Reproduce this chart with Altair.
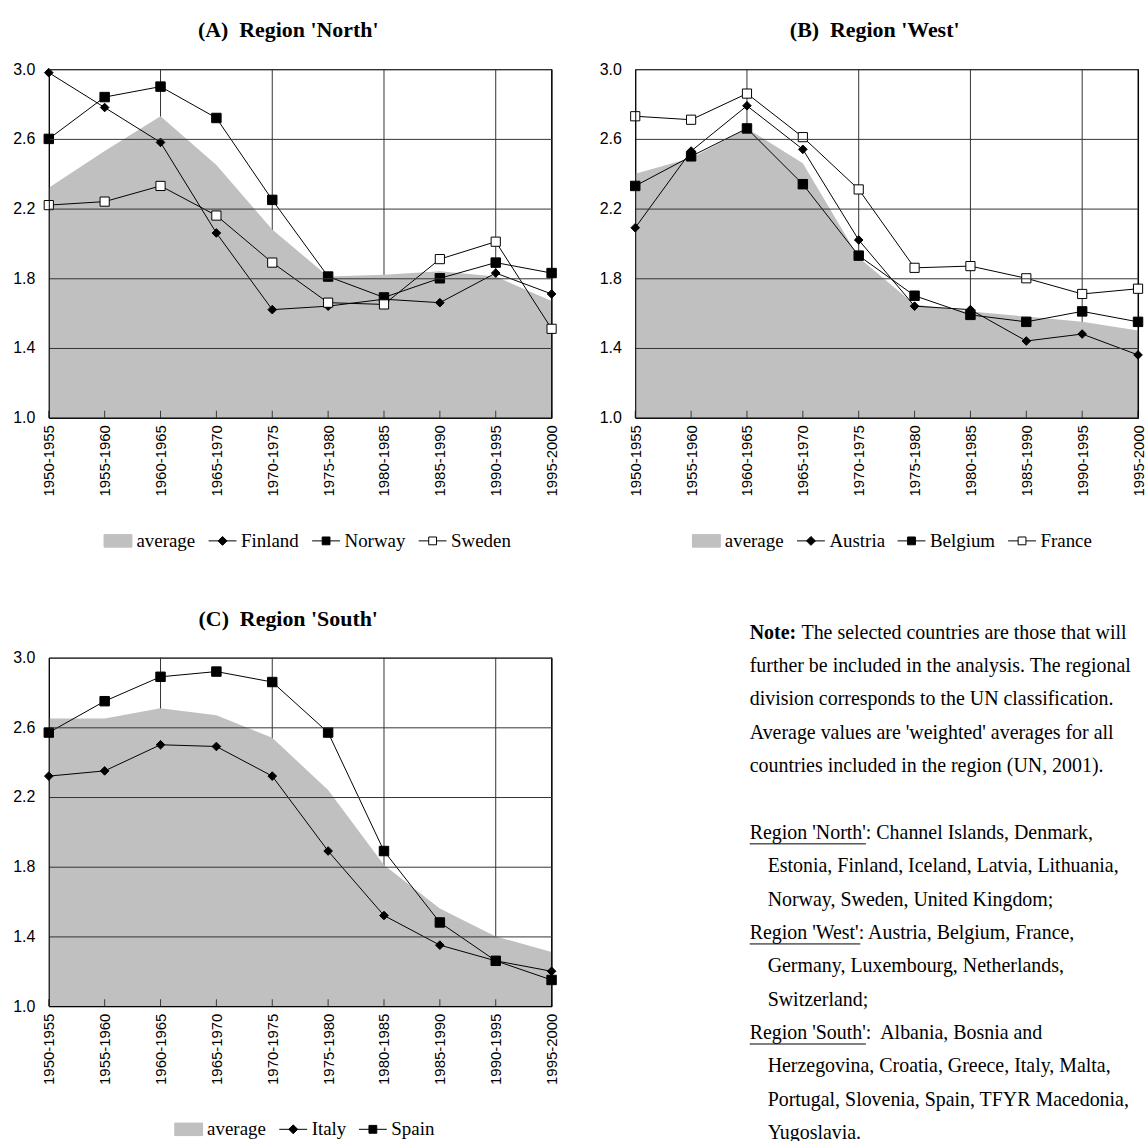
import altair as alt
import pandas as pd

# ---------------- data ----------------
periods = ["1950-1955", "1955-1960", "1960-1965", "1965-1970", "1970-1975",
           "1975-1980", "1980-1985", "1985-1990", "1990-1995", "1995-2000"]
grid_periods = ["1960-1965", "1970-1975", "1980-1985", "1990-1995"]
border_period = ["1995-2000"]
y_ticks = [1.0, 1.4, 1.8, 2.2, 2.6, 3.0]

north_avg = [2.32, 2.53, 2.73, 2.45, 2.08, 1.81, 1.82, 1.84, 1.81, 1.67]
finland = [2.98, 2.78, 2.58, 2.06, 1.62, 1.64, 1.68, 1.66, 1.83, 1.71]
norway = [2.60, 2.84, 2.90, 2.72, 2.25, 1.81, 1.69, 1.80, 1.89, 1.83]
sweden = [2.22, 2.24, 2.33, 2.16, 1.89, 1.66, 1.65, 1.91, 2.01, 1.51]

west_avg = [2.40, 2.49, 2.66, 2.46, 1.92, 1.65, 1.61, 1.58, 1.55, 1.50]
austria = [2.09, 2.53, 2.79, 2.54, 2.02, 1.64, 1.62, 1.44, 1.48, 1.36]
belgium = [2.33, 2.50, 2.66, 2.34, 1.93, 1.70, 1.59, 1.55, 1.61, 1.55]
france = [2.73, 2.71, 2.86, 2.61, 2.31, 1.86, 1.87, 1.80, 1.71, 1.74]

south_avg = [2.65, 2.65, 2.71, 2.67, 2.54, 2.24, 1.81, 1.56, 1.40, 1.31]
italy = [2.32, 2.35, 2.50, 2.49, 2.32, 1.89, 1.52, 1.35, 1.26, 1.20]
spain = [2.57, 2.75, 2.89, 2.92, 2.86, 2.57, 1.89, 1.48, 1.26, 1.15]

titles = ["(A)\u00a0 Region 'North'", "(B)\u00a0 Region 'West'", "(C)\u00a0 Region 'South'"]

note_first_bold = "Note:"
note_lines = [
    "The selected countries are those that will",
    "further be included in the analysis. The regional",
    "division corresponds to the UN classification.",
    "Average values are 'weighted' averages for all",
    "countries included in the region (UN, 2001).",
]
region_labels = ["Region 'North'", "Region 'West'", "Region 'South'"]
region_lines = [
    ["Region 'North': Channel Islands, Denmark,",
     "Estonia, Finland, Iceland, Latvia, Lithuania,",
     "Norway, Sweden, United Kingdom;"],
    ["Region 'West': Austria, Belgium, France,",
     "Germany, Luxembourg, Netherlands,",
     "Switzerland;"],
    ["Region 'South':\u00a0 Albania, Bosnia and",
     "Herzegovina, Croatia, Greece, Italy, Malta,",
     "Portugal, Slovenia, Spain, TFYR Macedonia,",
     "Yugoslavia."],
]

# ---------------- style ----------------
SANS = "Liberation Sans"
SERIF = "Liberation Serif"
W, H = 505, 350
GRAY = "#c0c0c0"
GRID = "#333333"

LEG_AVG = "M-1,-0.45H1V0.45H-1Z"
LEG_DIAMOND = "M-1,0H1M0,-0.32L0.32,0L0,0.32L-0.32,0Z"
LEG_SQUARE = "M-1,0H1M-0.28,-0.28H0.28V0.28H-0.28Z"
LEG_OPEN = "M-1,0H-0.28M0.28,0H1M-0.28,-0.28H0.28V0.28H-0.28Z"

marker_style = {
    "diamond": dict(shape="diamond", fill="black", size=75, leg=LEG_DIAMOND),
    "square": dict(shape="square", fill="black", size=90, leg=LEG_SQUARE),
    "open": dict(shape="square", fill="white", size=85, leg=LEG_OPEN),
}


def make_panel(title, avg, countries, legend_x):
    names = ["average"] + [c[0] for c in countries]
    rows = []
    for name, vals in [("average", avg)] + [(c[0], c[1]) for c in countries]:
        for p, v in zip(periods, vals):
            rows.append({"period": p, "series": name, "value": v})
    df = pd.DataFrame(rows)
    base = alt.Chart(df)

    xscale = alt.Scale(type="point", domain=periods, padding=0)
    yscale = alt.Scale(domain=[1.0, 3.0], nice=False, zero=False)
    x_axis = alt.Axis(title=None, labelAngle=-90, labelFont=SANS, labelFontSize=15,
                      labelColor="black", labelPadding=7, ticks=False, grid=False,
                      domainColor="black", domainWidth=1, zindex=1)
    y_axis = alt.Axis(title=None, values=y_ticks, format=".1f", labelFont=SANS,
                      labelFontSize=16, labelColor="black", labelPadding=14,
                      labelFlush=False, ticks=False, grid=True, gridColor=GRID,
                      gridWidth=1, domainColor="black", domainWidth=1, zindex=1)
    X = alt.X("period:O", scale=xscale, axis=x_axis)
    Y = alt.Y("value:Q", scale=yscale, axis=y_axis)

    vgrid = alt.Chart(pd.DataFrame({"period": grid_periods})).mark_rule(
        color=GRID, strokeWidth=1).encode(x=X)
    area = base.transform_filter(alt.datum.series == "average").mark_area(
        color=GRAY, opacity=1).encode(x=X, y=Y, y2=alt.datum(1.0))
    border = alt.Chart(pd.DataFrame({"period": border_period})).mark_rule(
        color="black", strokeWidth=1).encode(x=X)
    xticks = alt.Chart(pd.DataFrame({"period": periods})).mark_tick(
        color="black", thickness=1, size=7, orient="vertical", yOffset=-3.5
    ).encode(x=X, y=alt.datum(1.0))
    lines = base.transform_filter(alt.datum.series != "average").mark_line(
        color="black", strokeWidth=1).encode(x=X, y=Y, detail="series:N")
    layers = [vgrid, area, border, xticks, lines]
    for name, _, mk in countries:
        st = marker_style[mk]
        layers.append(
            base.transform_filter(alt.datum.series == name).mark_point(
                shape=st["shape"], filled=True, fill=st["fill"], stroke="black",
                strokeWidth=1, size=st["size"], opacity=1).encode(x=X, y=Y))

    leg_shapes = [LEG_AVG] + [marker_style[c[2]]["leg"] for c in countries]
    leg_fills = [GRAY] + [marker_style[c[2]]["fill"] for c in countries]
    leg_strokes = [GRAY] + ["black" for _ in countries]
    legend = alt.Legend(title=None, orient="none", legendX=legend_x, legendY=H + 109,
                        direction="horizontal", symbolSize=784, symbolStrokeWidth=1,
                        labelFont=SERIF, labelFontSize=19, labelColor="black",
                        labelOffset=4, columnPadding=10)
    leg_layer = base.transform_filter("false").mark_point(opacity=1).encode(
        shape=alt.Shape("series:N", scale=alt.Scale(domain=names, range=leg_shapes), legend=legend),
        fill=alt.Fill("series:N", scale=alt.Scale(domain=names, range=leg_fills), legend=legend),
        stroke=alt.Stroke("series:N", scale=alt.Scale(domain=names, range=leg_strokes), legend=legend),
    )
    layers.append(leg_layer)

    return alt.layer(*layers).properties(
        width=W, height=H,
        title=alt.Title(title, font=SERIF, fontSize=22, fontWeight="bold", color="black",
                        anchor="middle", dx=-12, offset=19),
        view=alt.ViewBackground(stroke="black", strokeWidth=1),
    )


panel_a = make_panel(titles[0], north_avg,
                     [("Finland", finland, "diamond"), ("Norway", norway, "square"),
                      ("Sweden", sweden, "open")], 55)
panel_b = make_panel(titles[1], west_avg,
                     [("Austria", austria, "diamond"), ("Belgium", belgium, "square"),
                      ("France", france, "open")], 57)
panel_c = make_panel(titles[2], south_avg,
                     [("Italy", italy, "diamond"), ("Spain", spain, "square")], 126)

# ---------------- note ----------------
NW, NH = 397, 484
FS = 20
LINE = 33.5
FIRST = -25.0     # first line centre relative to the note view top
INDENT = 18
NOTE_DX = 52

note_rows = []
for i, t in enumerate(note_lines):
    note_rows.append({"row": i, "text": t, "indent": 0, "lead": 1 if i == 0 else 0})
r = len(note_lines) + 1
under_rows = []
for lab, block in zip(region_labels, region_lines):
    under_rows.append({"row": r, "label": lab})
    for j, t in enumerate(block):
        note_rows.append({"row": r, "text": t, "indent": 0 if j == 0 else 1, "lead": 0})
        r += 1
note_df = pd.DataFrame(note_rows)
bold_df = pd.DataFrame({"row": [0], "text": [note_first_bold]})
em_width = {"Region 'North'": 5.832, "Region 'West'": 5.554, "Region 'South'": 5.833}
under_df = pd.DataFrame(under_rows)
under_df["w"] = [em_width[l] * FS for l in under_df["label"]]

ny_scale = alt.Scale(domain=[-FIRST / LINE, (NH - FIRST) / LINE], nice=False, zero=False,
                     reverse=True)
nx_scale = alt.Scale(domain=[0, NW], nice=False, zero=False)
NY = alt.Y("row:Q", scale=ny_scale, axis=None)
NX = alt.X("xpos:Q", scale=nx_scale, axis=None)

note_text = alt.Chart(note_df).transform_calculate(
    xpos=f"datum.indent * {INDENT} + datum.lead * {NOTE_DX}"
).mark_text(align="left", baseline="middle", font=SERIF, fontSize=FS, color="black",
            limit=NW, ellipsis="").encode(x=NX, y=NY, text="text:N")
note_bold = alt.Chart(bold_df).transform_calculate(xpos="0").mark_text(
    align="left", baseline="middle", font=SERIF, fontSize=FS, fontWeight="bold",
    color="black").encode(x=NX, y=NY, text="text:N")
underline = alt.Chart(under_df).transform_calculate(
    xpos="0", ypos="datum.row + 0.33"
).mark_rule(color="black", strokeWidth=1).encode(
    x=NX, x2="w:Q", y=alt.Y("ypos:Q", scale=ny_scale, axis=None))

note = alt.layer(note_text, note_bold, underline).properties(
    width=NW, height=NH, view=alt.ViewBackground(strokeWidth=0))

indep = dict(shape="independent", fill="independent", stroke="independent")
row1 = alt.hconcat(panel_a, panel_b, spacing=38).resolve_scale(**indep).resolve_legend(**indep)
row2 = alt.hconcat(panel_c, note, spacing=189).resolve_scale(**indep).resolve_legend(**indep)
chart = alt.vconcat(row1, row2, spacing=55).resolve_scale(**indep).resolve_legend(**indep).properties(
    padding={"left": 12, "top": 16, "right": 0, "bottom": 0},
    background="white",
).configure_view(strokeWidth=0)

chart.save("out.html", embed_options={"renderer": "svg", "actions": False})
